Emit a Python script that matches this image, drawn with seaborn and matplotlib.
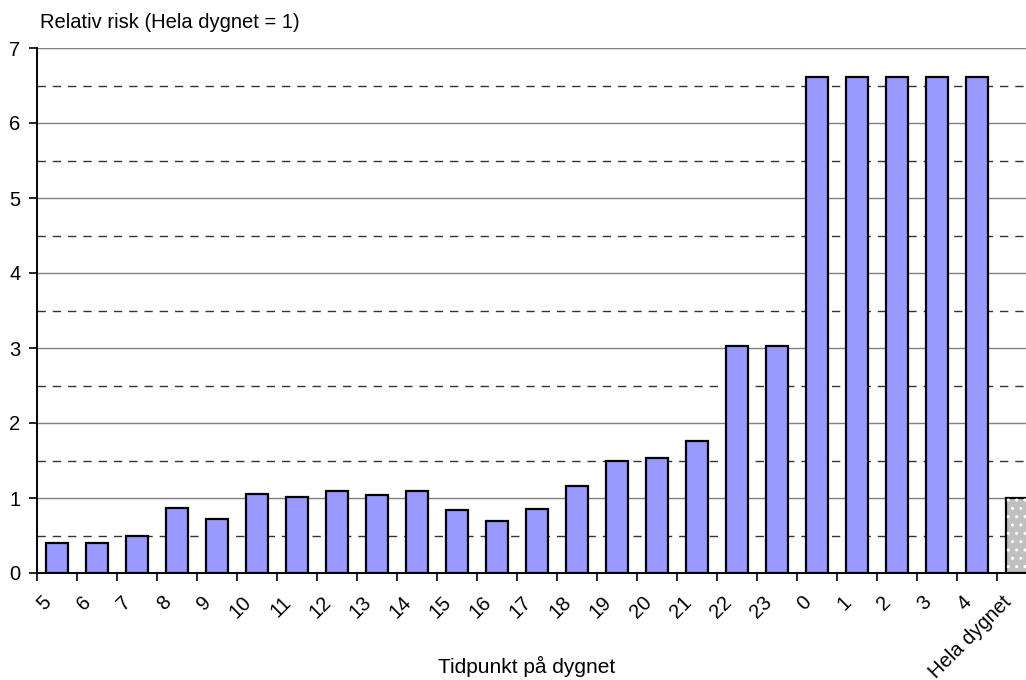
import matplotlib
matplotlib.use("Agg")
import matplotlib.pyplot as plt
from matplotlib.patches import Rectangle
from matplotlib.ticker import MultipleLocator
from matplotlib.transforms import ScaledTranslation
import seaborn as sns
import pandas as pd

# Hours of the day plus the whole-day reference
hours = ["5", "6", "7", "8", "9", "10", "11", "12", "13", "14", "15", "16", "17",
         "18", "19", "20", "21", "22", "23", "0", "1", "2", "3", "4", "Hela dygnet"]
relative_risk = [0.40, 0.40, 0.49, 0.87, 0.72, 1.06, 1.01, 1.09, 1.04, 1.10, 0.84,
                 0.70, 0.86, 1.16, 1.50, 1.54, 1.76, 3.03, 3.03, 6.61, 6.61, 6.61,
                 6.61, 6.61, 1.00]

bar_color = "#9999FF"
ref_color = "#C0C0C0"

sns.set_style("white")
plt.rcParams["font.family"] = ["Liberation Sans", "DejaVu Sans"]
plt.rcParams["text.color"] = "black"
plt.rcParams["xtick.color"] = "black"
plt.rcParams["ytick.color"] = "black"
plt.rcParams["axes.labelcolor"] = "black"
plt.rcParams["hatch.linewidth"] = 1.0

df = pd.DataFrame({"hour": hours, "risk": relative_risk})
palette = {h: (ref_color if h == "Hela dygnet" else bar_color) for h in hours}

fig = plt.figure(figsize=(10.26, 6.8), dpi=100)
ax = fig.add_axes([37 / 1026, 107 / 680, 1000 / 1026, 525 / 680])

sns.barplot(data=df, x="hour", y="risk", hue="hour", palette=palette, legend=False,
            width=0.57, edgecolor="black", linewidth=1.6, saturation=1, ax=ax,
            zorder=3)

# White dot pattern on the whole-day bar
ref = ax.patches[-1]
ax.add_patch(Rectangle(ref.get_xy(), ref.get_width(), ref.get_height(),
                       facecolor="none", edgecolor="white", hatch="..",
                       linewidth=0, zorder=3.5))

ax.set_ylim(0, 7)
ax.set_xlim(-0.5, len(hours) - 0.5)

ax.yaxis.set_major_locator(MultipleLocator(1))
ax.yaxis.set_minor_locator(MultipleLocator(0.5))
ax.grid(axis="y", which="major", color="#808080", linewidth=1.0, zorder=0)
ax.grid(axis="y", which="minor", color="#333333", linewidth=1.0,
        linestyle=(0, (6, 5)), zorder=0)
ax.grid(axis="x", visible=False)
ax.set_axisbelow(True)

# Ticks on category boundaries; slanted category labels under each bar
ax.set_xticks(range(len(hours)))
ax.set_xticklabels([])
ax.tick_params(axis="x", which="major", length=0)
ax.set_xticks([i - 0.5 for i in range(len(hours) + 1)], minor=True)
ax.tick_params(axis="x", which="minor", length=6, width=1.2, color="black",
               direction="out", bottom=True)
label_tf = ax.get_xaxis_transform() + ScaledTranslation(-11 / 72, -14 / 72,
                                                        fig.dpi_scale_trans)
for i, name in enumerate(hours):
    ax.text(i, 0, name, transform=label_tf, rotation=45, ha="right", va="top",
            rotation_mode="anchor", fontsize=14.5, clip_on=False)

ax.tick_params(axis="y", which="major", length=6, width=1.2, color="black",
               direction="out", left=True, labelsize=14.5, pad=6)
ax.tick_params(axis="y", which="minor", length=0)

for side in ["top", "right"]:
    ax.spines[side].set_visible(False)
for side in ["left", "bottom"]:
    ax.spines[side].set_color("black")
    ax.spines[side].set_linewidth(1.4)
    ax.spines[side].set_zorder(4)

ax.set_xlabel("Tidpunkt på dygnet", fontsize=15, labelpad=0)
ax.xaxis.label.set_va("center")
ax.xaxis.set_label_coords((527 - 37) / 1000, -(666 - 573) / 525)
ax.set_ylabel("")
fig.text(40 / 1026, 1 - 22 / 680, "Relativ risk (Hela dygnet = 1)",
         fontsize=14.5, va="center", ha="left")

fig.savefig("out.png", dpi=100)
